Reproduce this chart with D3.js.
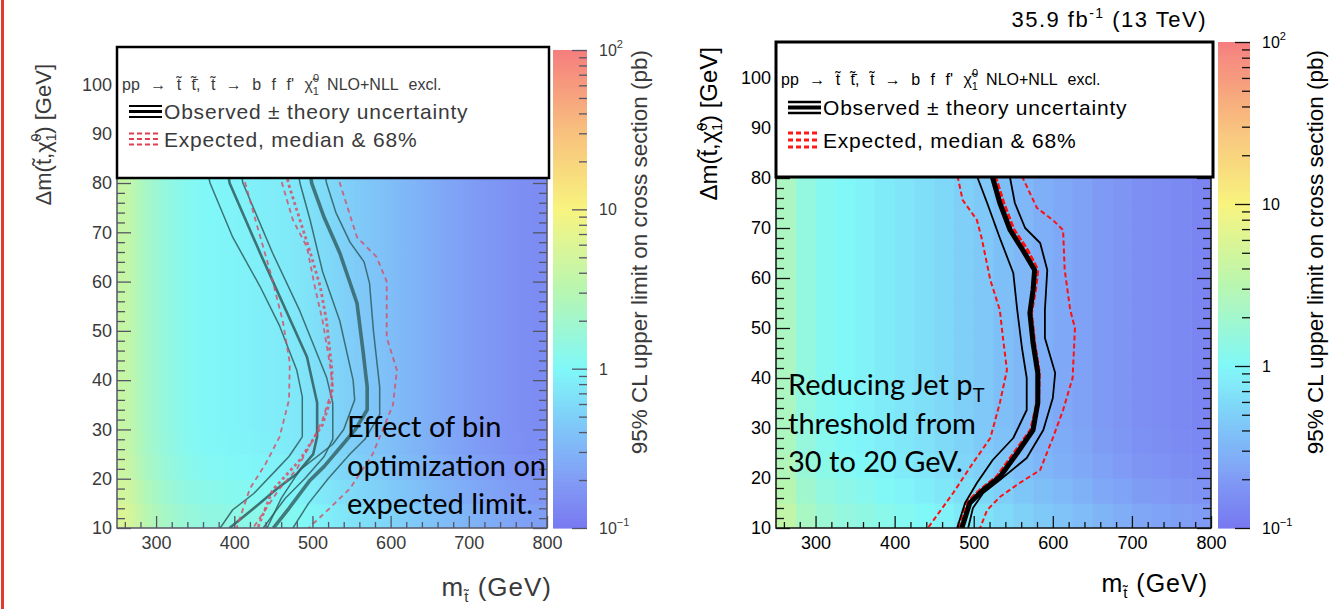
<!DOCTYPE html>
<html>
<head>
<meta charset="utf-8">
<script src="https://cdn.jsdelivr.net/npm/d3@7"></script>
<style>
  body { margin: 0; background: #fff; }
  svg { display: block; }
  text { font-family: 'Liberation Sans', Arial, sans-serif; }
</style>
</head>
<body>
<svg id="chart" width="1340" height="609"></svg>
<script>
// ---------- data ----------
const massEdges = [250, 275, 300, 325, 350, 375, 400, 425, 450, 475, 500, 525, 550, 575, 600, 625, 650, 675, 700, 725, 750, 775, 800];
const dmEdges = [10, 15, 20, 25, 30, 35, 40, 45, 50, 55, 60, 65, 70, 75, 85];

// 95% CL upper limit (pb) per mass column
const limitColsLeft = [4.0, 2.2, 1.5, 1.15, 1.0, 0.95, 0.9, 0.85, 0.8, 0.72, 0.62, 0.52, 0.45, 0.4, 0.34, 0.3, 0.26, 0.23, 0.2, 0.18, 0.16, 0.15];
const limitColsRight = [2.4, 1.5, 1.15, 1.0, 0.9, 0.8, 0.72, 0.65, 0.58, 0.5, 0.44, 0.38, 0.33, 0.29, 0.26, 0.23, 0.2, 0.18, 0.16, 0.15, 0.14, 0.13];
// relative change of the limit per dm row (bottom rows are a bit higher)
const rowScaleLeft = [1.45, 1.25, 1.1, 1.02, 1, 1, 1, 1, 1, 1, 1, 1, 1, 1];
const rowScaleRight = [1.55, 1.3, 1.12, 1.04, 1, 1, 1, 1, 1, 1, 1, 1, 1, 1];

const xTicks = [300, 400, 500, 600, 700, 800];
const yTicks = [10, 20, 30, 40, 50, 60, 70, 80, 90, 100];
const zTicks = [0.1, 1, 10, 100];

// contours, [mass, dm]
const leftA1 = [[366,82],[369,80],[398,69],[433,59],[458,51],[480,42],[487,36.6],[487,28.5],[470,24.5],[455,22],[425,17],[398,13.7],[382,10]];
const leftA2 = [[392,82],[394,80],[433,65.8],[462,55.6],[493,44.7],[506,35.4],[506,28.5],[501,25],[480,21],[455,18],[425,14],[394,10]];
const leftA3 = [[409,82],[411,80],[449,65.8],[484,54],[518,40.6],[526,35.4],[526,28],[515,24.5],[490,20],[465,16],[437,10]];
const leftAExp = [[412,82],[414,80],[428,72],[446,62],[462,52],[471,43.5],[470,36],[458,28.5],[440,23],[420,18],[403,10]];
const leftB1 = [[482,82],[484,80],[497,72.5],[513,62],[535,52],[552,40],[554,36],[540,30],[526,27],[484,21.8],[460,16],[442,10]];
const leftB2 = [[497,82],[499,80],[515,73],[535,65.8],[557,55.6],[565,45.5],[570,38.6],[570,34],[555,30],[539,27],[515,22.5],[497,19.7],[470,14],[450,10]];
const leftB3 = [[516,82],[518,80],[530,74],[548,68],[566,64],[573,59.7],[578,50],[586,38.6],[586,33],[567,28],[548,25],[520,20],[495,15],[475,10]];
const leftBExpLo = [[459,82],[461,80],[475,72.5],[493,67],[503,59],[513,52],[522,43.5],[526,38.6],[513,32],[501,28],[480,22],[458,18],[424,10]];
const leftBExpMed = [[467,82],[469,80],[485,72],[497,66],[510,59],[518,52],[525,42],[525,37],[513,31],[484,23.8],[449,17.7],[430,10]];
const leftBExpHi = [[533,82],[535,80],[557,69],[582,65],[595,60],[595,48.7],[608,42],[603,35],[577,25],[548,18],[522,14],[495,10]];

const rightObs = [[523,82],[524,80],[533,75],[546,69.6],[562,65.6],[577,61.6],[575,57.6],[571,53],[575,47],[581,41],[581,35],[575,29.6],[555,25],[533,20.2],[512,17.6],[495,15],[485,10]];
const rightObsMinus = [[504,82],[505,80],[517,75],[533,68],[550,61],[555,53.6],[561,46],[567,40],[567,33.6],[550,28],[524,23.6],[504,19],[489,15],[479,10]];
const rightObsPlus = [[545,82],[546,80],[552,75],[565,70],[584,67],[593,61.6],[590,53.6],[590,48],[603,41],[600,36],[588,29.6],[567,24],[533,19.6],[512,17],[499,14],[493,10]];
const rightExpMed = [[526,82],[527,80],[537,75],[550,69.6],[567,65.6],[580,61.6],[577,57.6],[572,53],[576,47],[582,41],[581,35],[573,29.6],[552,25],[530,20.2],[509,17.6],[492,15],[483,10]];
const rightExpLo = [[479,82],[480,80],[486,75.6],[504,71.6],[510,68],[521,59.6],[533,53.6],[537,48],[542,41.6],[533,35],[521,28],[499,23],[474,17],[442,10]];
const rightExpHi = [[561,82],[562,80],[580,74],[600,71.6],[613,69.6],[615,61.6],[622,53.6],[628,50],[625,40],[613,33.6],[600,28],[584,21.6],[558,19],[533,16.2],[517,13.6],[508,10]];

// ---------- drawing ----------
const svg = d3.select('#chart');
const defs = svg.append('defs');

// ROOT-like pastel rainbow palette, in log10 of the limit
const palette = d3.scaleLinear()
  .domain([-1, -0.7, -0.4, 0, 0.5, 1, 1.5, 2])
  .range(['#7878f0', '#7f9af5', '#7fc2f8', '#80f8f8', '#b8f6b0', '#f8f47e', '#f8bf7e', '#f57e7e'])
  .clamp(true);
const colour = (v) => palette(Math.log10(v));

// red bar on the slide's left edge
svg.append('rect').attr('x', 1).attr('y', 0).attr('width', 3).attr('height', 609).attr('fill', '#e23a2c');

function drawPanel(p) {
  const g = svg.append('g');
  const x = d3.scaleLinear().domain([250, 800]).range([p.left, p.right]);
  const y = d3.scaleLinear().domain([10, p.yMax]).range([p.bottom, p.top]);

  defs.append('clipPath').attr('id', 'clip-' + p.id)
    .append('rect')
    .attr('x', p.left).attr('y', p.top)
    .attr('width', p.right - p.left).attr('height', p.bottom - p.top);

  const heat = g.append('g').attr('clip-path', `url(#clip-${p.id})`);

  if (p.smooth) {
    // blurry panel: each row is a horizontal gradient through the column values
    d3.range(dmEdges.length - 1).forEach((j) => {
      const gid = `grad-${p.id}-${j}`;
      const grad = defs.append('linearGradient').attr('id', gid)
        .attr('gradientUnits', 'userSpaceOnUse')
        .attr('x1', x(250)).attr('x2', x(800)).attr('y1', 0).attr('y2', 0);
      p.cols.forEach((v, i) => {
        const mid = (massEdges[i] + massEdges[i + 1]) / 2;
        grad.append('stop').attr('offset', (mid - 250) / 550).attr('stop-color', colour(v * p.rows[j]));
      });
      heat.append('rect')
        .attr('x', x(250)).attr('width', x(800) - x(250))
        .attr('y', y(dmEdges[j + 1])).attr('height', y(dmEdges[j]) - y(dmEdges[j + 1]) + 1)
        .attr('fill', `url(#${gid})`);
    });
  } else {
    const cells = [];
    p.cols.forEach((v, i) => p.rows.forEach((r, j) => cells.push({ i, j, v: v * r })));
    heat.selectAll('rect.cell').data(cells).join('rect')
      .attr('class', 'cell')
      .attr('x', (d) => x(massEdges[d.i]))
      .attr('width', (d) => x(massEdges[d.i + 1]) - x(massEdges[d.i]) + 0.6)
      .attr('y', (d) => y(dmEdges[d.j + 1]))
      .attr('height', (d) => y(dmEdges[d.j]) - y(dmEdges[d.j + 1]) + 0.6)
      .attr('fill', (d) => colour(d.v));
  }

  // contours
  const line = d3.line().x((d) => x(d[0])).y((d) => y(d[1]));
  heat.append('g').selectAll('path').data(p.lines).join('path')
    .attr('d', (d) => line(d.pts))
    .attr('fill', 'none')
    .attr('stroke', (d) => d.color)
    .attr('stroke-width', (d) => d.width)
    .attr('stroke-dasharray', (d) => d.dash || null)
    .attr('stroke-opacity', (d) => d.opacity || 1)
    .attr('stroke-linejoin', 'round');

  // axes, ROOT style ticks pointing into the frame
  const xMinor = d3.range(260, 801, 20).filter((v) => v % 100 !== 0);
  const yMinor = d3.range(12, p.yMax, 2).filter((v) => v % 10 !== 0);

  const xAxis = g.append('g').attr('transform', `translate(0,${p.bottom})`)
    .call(d3.axisBottom(x).tickValues(xTicks).tickSize(-12).tickPadding(8));
  g.append('g').attr('transform', `translate(0,${p.bottom})`)
    .call(d3.axisBottom(x).tickValues(xMinor).tickSize(-6).tickFormat(''));
  const yAxis = g.append('g').attr('transform', `translate(${p.left},0)`)
    .call(d3.axisLeft(y).tickValues(yTicks).tickSize(-14).tickPadding(5));
  g.append('g').attr('transform', `translate(${p.left},0)`)
    .call(d3.axisLeft(y).tickValues(yMinor).tickSize(-8).tickFormat(''));
  g.append('g').attr('transform', `translate(${p.right},0)`)
    .call(d3.axisRight(y).tickValues(yTicks).tickSize(-14).tickFormat(''));
  g.append('g').attr('transform', `translate(${p.right},0)`)
    .call(d3.axisRight(y).tickValues(yMinor).tickSize(-8).tickFormat(''));

  g.selectAll('.domain').remove();
  g.selectAll('.tick line').attr('stroke', p.axisColor).attr('stroke-width', 1.3);
  [xAxis, yAxis].forEach((a) => a.selectAll('text')
    .attr('fill', p.textColor).style('font-size', '18px')
    .style('font-family', "'Liberation Sans', Arial, sans-serif"));

  // frame
  g.append('path')
    .attr('d', `M${p.left},${p.top}V${p.bottom}H${p.right}V${p.top}`)
    .attr('fill', 'none').attr('stroke', p.axisColor).attr('stroke-width', 1.5);

  // legend box
  const lg = g.append('g');
  lg.append('rect')
    .attr('x', p.left).attr('y', p.top)
    .attr('width', p.right - p.left + 2).attr('height', p.legendBottom - p.top)
    .attr('fill', '#fff').attr('stroke', '#000').attr('stroke-width', p.boxStroke);

  const lx = p.left + 5;
  const t1 = lg.append('text').attr('x', lx).attr('y', p.top + 43)
    .attr('fill', p.textColor).style('font-size', '16px').style('word-spacing', '6px');
  t1.append('tspan').text('pp \u2192 t\u0303 t\u0303\u0304, t\u0303 \u2192 b f f\' \u03C7\u0303');
  t1.append('tspan').attr('dy', 5).style('font-size', '11px').text('1');
  t1.append('tspan').attr('dx', -6).attr('dy', -13).style('font-size', '11px').text('0');
  t1.append('tspan').attr('dy', 8).attr('dx', 8).text('NLO+NLL excl.');

  const symX0 = p.left + 12, symX1 = p.left + 45;
  p.obsSym.forEach((s) => lg.append('line')
    .attr('x1', symX0).attr('x2', symX1).attr('y1', s[0]).attr('y2', s[0])
    .attr('stroke', '#000').attr('stroke-width', s[1]));
  p.expSym.forEach((s) => lg.append('line')
    .attr('x1', symX0).attr('x2', symX1 - 4).attr('y1', s[0]).attr('y2', s[0])
    .attr('stroke', p.expColor).attr('stroke-width', s[1]).attr('stroke-dasharray', '5,3'));

  lg.append('text').attr('x', p.left + 47).attr('y', p.obsSym[1][0] + 7.5)
    .attr('fill', p.textColor).style('font-size', '21px').style('letter-spacing', '0.8px')
    .text('Observed \u00B1 theory uncertainty');
  lg.append('text').attr('x', p.left + 47).attr('y', p.expSym[1][0] + 7.5)
    .attr('fill', p.textColor).style('font-size', '21px').style('letter-spacing', '0.8px')
    .text('Expected, median & 68%');

  // colour bar
  const z = d3.scaleLog().domain([0.1, 100]).range([p.bottom, p.cbTop]);
  const steps = d3.range(0, 240);
  const cb = g.append('g');
  cb.selectAll('rect').data(steps).join('rect')
    .attr('x', p.cbLeft).attr('width', p.cbRight - p.cbLeft)
    .attr('y', (k) => p.bottom - (k + 1) * (p.bottom - p.cbTop) / steps.length)
    .attr('height', (p.bottom - p.cbTop) / steps.length + 0.6)
    .attr('fill', (k) => colour(Math.pow(10, -1 + 3 * (k + 0.5) / steps.length)));
  const zMinor = [2, 3, 4, 5, 6, 7, 8, 9].flatMap((m) => [m * 0.1, m, m * 10]);
  cb.append('g').attr('transform', `translate(${p.cbRight},0)`)
    .call(d3.axisRight(z).tickValues(zTicks).tickSize(-15).tickFormat(''));
  cb.append('g').attr('transform', `translate(${p.cbRight},0)`)
    .call(d3.axisRight(z).tickValues(zMinor).tickSize(-8).tickFormat(''));
  cb.selectAll('.domain').remove();
  cb.selectAll('.tick line').attr('stroke', p.axisColor).attr('stroke-width', 1.3);

  zTicks.forEach((v) => {
    const t = cb.append('text').attr('x', p.cbRight + 12).attr('y', z(v) + 6)
      .attr('fill', p.textColor).style('font-size', '16px');
    if (v === 1) t.text('1');
    else if (v === 10) t.text('10');
    else {
      t.append('tspan').text('10');
      t.append('tspan').attr('dy', -8).style('font-size', '11px').text(v === 100 ? '2' : '\u22121');
    }
  });

  g.append('text')
    .attr('transform', `translate(${p.zTitleX},${p.zTitleY}) rotate(-90)`)
    .attr('text-anchor', 'end').attr('fill', p.textColor)
    .style('font-size', '22.5px')
    .text('95% CL upper limit on cross section (pb)');

  // axis titles
  const xt = g.append('text').attr('x', p.xTitleX).attr('y', p.xTitleY)
    .attr('text-anchor', 'end').attr('fill', p.textColor)
    .style('font-size', p.xTitleSize).style('letter-spacing', '1px');
  xt.append('tspan').text('m');
  xt.append('tspan').attr('dy', 6).style('font-size', '15px').text('t\u0303');
  xt.append('tspan').attr('dy', -6).text(' (GeV)');

  const yt = g.append('text')
    .attr('transform', `translate(${p.yTitleX},${p.yTitleY}) rotate(-90)`)
    .attr('text-anchor', 'end').attr('fill', p.textColor).style('font-size', p.yTitleSize);
  yt.append('tspan').text('\u0394m(t\u0303,\u03C7\u0303');
  yt.append('tspan').attr('dy', 5).style('font-size', '14px').text('1');
  yt.append('tspan').attr('dx', -8).attr('dy', -15).style('font-size', '14px').text('0');
  yt.append('tspan').attr('dy', 10).text(') [GeV]');

  // annotation
  const note = g.append('text').attr('fill', '#000')
    .style('font-family', 'Lato, "Open Sans", sans-serif').style('font-size', '29px');
  p.note.forEach((row, k) => {
    const ts = note.append('tspan').attr('x', p.noteX).attr('y', p.noteY + k * 38.5);
    row.forEach((part) => {
      if (typeof part === 'string') ts.append('tspan').text(part);
      else ts.append('tspan').attr('dy', 7).style('font-size', '20px').text(part.subText);
    });
  });
}

const leftSolid = '#2f5d5f';
const leftRed = '#d65068';

drawPanel({
  id: 'left', smooth: true,
  left: 117, right: 547, top: 47, bottom: 528, yMax: 107.6, legendBottom: 178,
  cbLeft: 553, cbRight: 587, cbTop: 50,
  cols: limitColsLeft, rows: rowScaleLeft,
  axisColor: '#556', textColor: '#3a3a3a', boxStroke: 2.5, expColor: '#e04050',
  obsSym: [[106, 2], [111.5, 3], [117, 2]], expSym: [[133.5, 2.2], [139, 2.2], [144.5, 2.2]],
  zTitleX: 647, zTitleY: 50,
  xTitleX: 552, xTitleY: 596, xTitleSize: '26px',
  yTitleX: 51, yTitleY: 64, yTitleSize: '22px',
  noteX: 347, noteY: 437,
  note: [['Effect of bin'], ['optimization on'], ['expected limit.']],
  lines: [
    { pts: leftA1, color: leftSolid, width: 1.5, opacity: 0.85 },
    { pts: leftA2, color: leftSolid, width: 2.6, opacity: 0.85 },
    { pts: leftA3, color: leftSolid, width: 1.5, opacity: 0.85 },
    { pts: leftAExp, color: leftRed, width: 1.8, dash: '5,4', opacity: 0.85 },
    { pts: leftBExpLo, color: leftRed, width: 1.8, dash: '5,4', opacity: 0.85 },
    { pts: leftBExpMed, color: leftRed, width: 2.8, dash: '3,3', opacity: 0.85 },
    { pts: leftBExpHi, color: leftRed, width: 1.8, dash: '5,4', opacity: 0.85 },
    { pts: leftB1, color: leftSolid, width: 1.5, opacity: 0.85 },
    { pts: leftB2, color: leftSolid, width: 3.6, opacity: 0.8 },
    { pts: leftB3, color: leftSolid, width: 1.5, opacity: 0.85 },
  ],
});

drawPanel({
  id: 'right', smooth: false,
  left: 776, right: 1211, top: 42, bottom: 528, yMax: 107.2, legendBottom: 177,
  cbLeft: 1218, cbRight: 1250, cbTop: 42,
  cols: limitColsRight, rows: rowScaleRight,
  axisColor: '#111', textColor: '#000', boxStroke: 3, expColor: '#ff1a1a',
  obsSym: [[102, 2.5], [107.5, 4], [113, 2.5]], expSym: [[133, 3], [140, 3], [147, 3]],
  zTitleX: 1323, zTitleY: 50,
  xTitleX: 1208, xTitleY: 592, xTitleSize: '25px',
  yTitleX: 717, yTitleY: 47, yTitleSize: '24px',
  noteX: 788, noteY: 395,
  note: [['Reducing Jet p', { subText: 'T' }], ['threshold from'], ['30 to 20 GeV.']],
  lines: [
    { pts: rightExpLo, color: '#ff1010', width: 2, dash: '5,3' },
    { pts: rightExpHi, color: '#ff1010', width: 2, dash: '5,3' },
    { pts: rightExpMed, color: '#ff1010', width: 4.5, dash: '6,2' },
    { pts: rightObsMinus, color: '#000', width: 1.8 },
    { pts: rightObsPlus, color: '#000', width: 1.8 },
    { pts: rightObs, color: '#000', width: 5 },
  ],
});

// luminosity label
const lumi = svg.append('text').attr('x', 1207).attr('y', 27)
  .attr('text-anchor', 'end').attr('fill', '#000')
  .style('font-size', '22px').style('letter-spacing', '1.5px');
lumi.append('tspan').text('35.9 fb');
lumi.append('tspan').attr('dy', -9).style('font-size', '14px').text('-1');
lumi.append('tspan').attr('dy', 9).text(' (13 TeV)');
</script>
</body>
</html>
